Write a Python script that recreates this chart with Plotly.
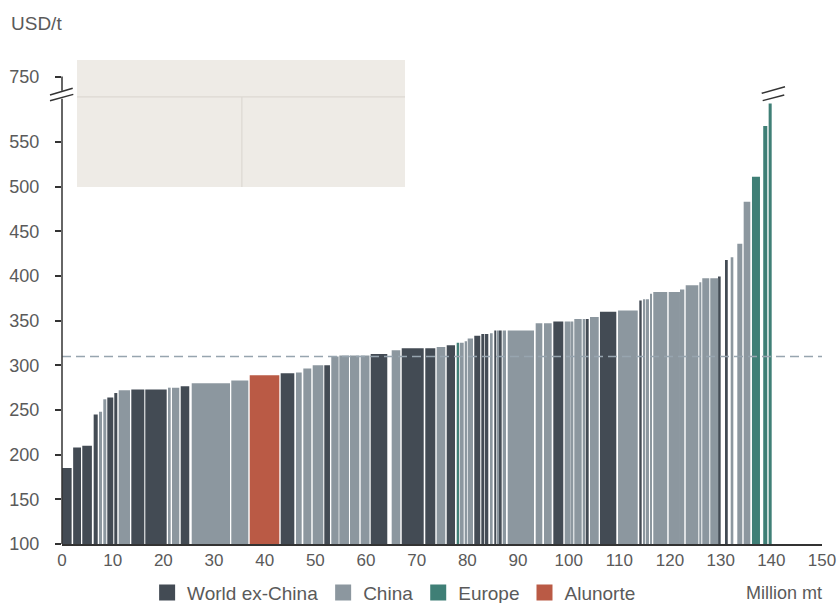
import plotly.graph_objects as go

# ---- data ----
bar_left = [0.0, 2.2, 4.0, 6.25, 7.3, 8.15, 8.94, 10.32, 11.19, 13.68, 16.44, 20.92, 21.71, 23.43,
            25.6, 33.41, 37.05, 43.16, 46.18, 47.63, 49.48, 51.77, 53.15, 54.73, 56.84, 58.95,
            60.93, 65.07, 67.05, 71.7, 73.95, 75.93, 77.9, 78.49, 79.48, 80.07, 81.37, 82.76,
            83.49, 84.47, 85.32, 85.86, 86.25, 86.98, 87.97, 93.49, 95.13, 96.97, 99.22, 100.6,
            101.11, 102.77, 103.36, 104.21, 106.18, 109.74, 113.94, 114.67, 115.26, 116.05,
            116.7, 119.74, 122.03, 122.5, 123.1, 125.78, 126.37, 127.95, 129.67, 131.05,
            131.98, 133.28, 134.54, 136.18, 138.4, 139.47]
bar_right = [1.9, 3.75, 5.9, 7.05, 7.9, 8.74, 10.12, 10.91, 13.42, 16.24, 20.66, 21.45, 23.15, 25.12,
             33.16, 36.77, 42.89, 45.85, 47.31, 49.2, 51.57, 52.89, 54.6, 56.64, 58.68, 60.69,
             64.2, 66.77, 71.39, 73.68, 75.65, 77.57, 78.35, 79.28, 79.93, 81.12, 82.55, 83.35,
             84.14, 85.0, 85.72, 86.11, 86.78, 87.63, 93.16, 94.8, 96.65, 98.94, 100.4, 100.92,
             102.57, 103.22, 103.95, 105.93, 109.4, 113.63, 114.41, 115.12, 115.85, 116.45,
             119.46, 121.97, 122.37, 122.82, 125.59, 126.18, 127.75, 129.53, 130.0, 131.4,
             132.5, 134.27, 135.85, 137.76, 139.2, 140.07]
bar_cost = [185, 208, 210, 245, 248, 262, 264, 269, 272, 273, 273, 275, 275, 276.5,
            280, 283, 289, 291, 292, 296.5, 300, 300, 310, 311, 311, 311,
            312.7, 317, 319, 319, 320.5, 322.4, 325.4, 325.4, 327, 330, 333, 335,
            335, 336, 339, 339, 339, 339, 339, 347, 347, 349, 349, 349,
            352, 352, 352, 354, 360, 361.5, 372.5, 374, 374, 380,
            382, 382, 385, 385, 389.6, 393, 397.4, 397.4, 399.3, 418,
            421, 436, 483, 511, 568, 593]
bar_region = ["W", "W", "W", "W", "C", "C", "W", "W", "C", "W", "W", "C", "C", "W",
              "C", "C", "A", "W", "C", "C", "C", "W", "C", "C", "C", "C",
              "W", "C", "W", "W", "C", "W", "E", "C", "C", "C", "W", "W",
              "W", "C", "W", "C", "W", "C", "C", "C", "C", "W", "C", "C",
              "C", "C", "W", "C", "W", "C", "W", "C", "C", "C",
              "C", "C", "C", "C", "C", "C", "C", "C", "W", "W",
              "C", "C", "C", "E", "E", "E"]

series_order = ["W", "C", "E", "A"]
series_names = {"W": "World ex-China", "C": "China", "E": "Europe", "A": "Alunorte"}
series_colors = {"W": "#434B54", "C": "#8C979F", "E": "#3F7F76", "A": "#BA5A45"}

y_tickvals = [100, 150, 200, 250, 300, 350, 400, 450, 500, 550, 623.3]
y_ticktext = ["100", "150", "200", "250", "300", "350", "400", "450", "500", "550", "750"]
x_tickvals = list(range(0, 151, 10))
avg_cost = 310

FONT = "Liberation Sans, Arial, sans-serif"
TXT = "#5A5A5A"
AX = "#333333"

fig = go.Figure()
for key in series_order:
    xs, ws, ys = [], [], []
    for l, r, c, g in zip(bar_left, bar_right, bar_cost, bar_region):
        if g == key:
            xs.append((l + r) / 2)
            ws.append(r - l)
            ys.append(c)
    fig.add_trace(go.Bar(
        x=xs, y=ys, width=ws, name=series_names[key], showlegend=False,
        legendgroup=key,
        marker=dict(color=series_colors[key], line=dict(width=0)),
        hoverinfo="skip",
    ))
# legend entries (square swatches)
for key in series_order:
    fig.add_trace(go.Scatter(
        x=[None], y=[None], mode="markers", name=series_names[key], legendgroup=key,
        marker=dict(symbol="square", size=21, color=series_colors[key], line=dict(width=0)),
    ))

shapes = []
# inset box (empty panel)
shapes.append(dict(type="rect", xref="x", yref="y", x0=2.96, x1=67.7, y0=499.6, y1=641.8,
                   fillcolor="#EEEBE6", line=dict(width=0), layer="below"))
shapes.append(dict(type="line", xref="x", yref="y", x0=2.96, x1=67.7, y0=600.4, y1=600.4,
                   line=dict(color="#DCD8D2", width=1.2), layer="below"))
shapes.append(dict(type="line", xref="x", yref="y", x0=35.5, x1=35.5, y0=499.6, y1=600.4,
                   line=dict(color="#DCD8D2", width=1.2), layer="below"))
# average line
shapes.append(dict(type="line", xref="paper", yref="y", x0=0, x1=1, y0=avg_cost, y1=avg_cost,
                   line=dict(color="#97A5AF", width=1.5, dash="9px,5px"), layer="above"))
# y axis with break
shapes.append(dict(type="line", xref="paper", yref="y", x0=0, x1=0, y0=100, y1=598.5,
                   line=dict(color=AX, width=1.5)))
shapes.append(dict(type="line", xref="paper", yref="y", x0=0, x1=0, y0=607.5, y1=623.3,
                   line=dict(color=AX, width=1.5)))
shapes.append(dict(type="line", xref="paper", yref="y", x0=-0.0158, x1=0.0149, y0=596.2, y1=603.3,
                   line=dict(color=AX, width=1.5)))
shapes.append(dict(type="line", xref="paper", yref="y", x0=-0.0158, x1=0.0141, y0=602.6, y1=610.1,
                   line=dict(color=AX, width=1.5)))
# break marks over the last bar
shapes.append(dict(type="line", xref="x", yref="y", x0=138.1, x1=142.7, y0=604.5, y1=611.9,
                   line=dict(color=AX, width=1.5)))
shapes.append(dict(type="line", xref="x", yref="y", x0=138.3, x1=142.55, y0=596.3, y1=602.6,
                   line=dict(color=AX, width=1.5)))

fig.update_layout(
    width=839, height=603,
    margin=dict(l=62, r=17, t=44, b=59, autoexpand=False),
    paper_bgcolor="white", plot_bgcolor="white",
    font=dict(family=FONT, size=17, color=TXT),
    barmode="overlay",
    shapes=shapes,
    showlegend=True,
    legend=dict(orientation="h", xref="paper", x=0.112, xanchor="left",
                yref="container", y=0.017, yanchor="middle",
                font=dict(family=FONT, size=19, color=TXT), itemclick=False,
                itemsizing="trace", traceorder="normal", bgcolor="rgba(0,0,0,0)"),
    xaxis=dict(range=[0, 150], tickvals=x_tickvals, showgrid=False, zeroline=False,
               showline=True, linecolor=AX, linewidth=1.5, ticks="", automargin=False,
               tickfont=dict(family=FONT, size=17, color=TXT)),
    yaxis=dict(range=[100, 659.7], tickvals=y_tickvals, ticktext=y_ticktext,
               showgrid=False, zeroline=False, showline=False, automargin=False,
               ticks="outside", ticklen=6, tickwidth=1.5, tickcolor=AX,
               ticklabelstandoff=12,
               tickfont=dict(family=FONT, size=18, color=TXT)),
    annotations=[
        dict(text="USD/t", xref="paper", yref="paper", x=0, y=1, xanchor="left", yanchor="bottom",
             xshift=-53, yshift=8, showarrow=False, font=dict(family=FONT, size=19, color=TXT)),
        dict(text="Million mt", xref="paper", yref="paper", x=1, y=0, xanchor="right", yanchor="top",
             xshift=2, yshift=-37, showarrow=False, font=dict(family=FONT, size=18, color=TXT)),
    ],
)

fig.write_html("out.html")
